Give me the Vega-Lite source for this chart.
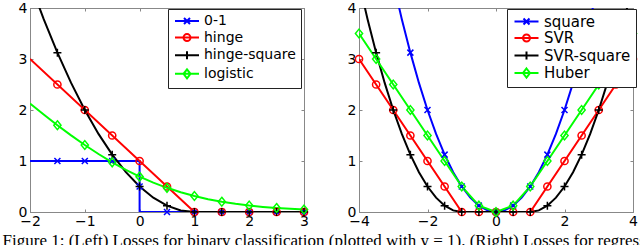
{
  "$schema": "https://vega.github.io/schema/vega-lite/v6.json",
  "padding": {"left": 2, "top": 0, "right": 0, "bottom": 0},
  "bounds": "flush",
  "spacing": 55,
  "title": {"text": "Figure 1: (Left) Losses for binary classification (plotted with y = 1). (Right) Losses for regression (plotted with y = 0).", "orient": "bottom", "anchor": "start", "font": "Liberation Serif", "fontSize": 17, "fontWeight": "normal", "color": "black", "offset": 4, "dx": -15},
  "datasets": {
    "lines": [
      {"panel": "L", "s": "0-1", "x": -2, "y": 1},
      {"panel": "L", "s": "0-1", "x": 0, "y": 1},
      {"panel": "L", "s": "0-1", "x": 0, "y": 0.5},
      {"panel": "L", "s": "0-1", "x": 0, "y": 0},
      {"panel": "L", "s": "0-1", "x": 3, "y": 0},
      {"panel": "L", "s": "hinge", "x": -2, "y": 3},
      {"panel": "L", "s": "hinge", "x": 1, "y": 0},
      {"panel": "L", "s": "hinge", "x": 3, "y": 0},
      {"panel": "L", "s": "hinge-square", "x": -2, "y": 4.5},
      {"panel": "L", "s": "hinge-square", "x": -1.75, "y": 3.78125},
      {"panel": "L", "s": "hinge-square", "x": -1.5, "y": 3.125},
      {"panel": "L", "s": "hinge-square", "x": -1.25, "y": 2.53125},
      {"panel": "L", "s": "hinge-square", "x": -1, "y": 2},
      {"panel": "L", "s": "hinge-square", "x": -0.75, "y": 1.53125},
      {"panel": "L", "s": "hinge-square", "x": -0.5, "y": 1.125},
      {"panel": "L", "s": "hinge-square", "x": -0.25, "y": 0.78125},
      {"panel": "L", "s": "hinge-square", "x": 0, "y": 0.5},
      {"panel": "L", "s": "hinge-square", "x": 0.25, "y": 0.28125},
      {"panel": "L", "s": "hinge-square", "x": 0.5, "y": 0.125},
      {"panel": "L", "s": "hinge-square", "x": 0.75, "y": 0.03125},
      {"panel": "L", "s": "hinge-square", "x": 1, "y": 0},
      {"panel": "L", "s": "hinge-square", "x": 3, "y": 0},
      {"panel": "L", "s": "logistic", "x": -2, "y": 2.1269},
      {"panel": "L", "s": "logistic", "x": -1.75, "y": 1.9102},
      {"panel": "L", "s": "logistic", "x": -1.5, "y": 1.7014},
      {"panel": "L", "s": "logistic", "x": -1.25, "y": 1.5019},
      {"panel": "L", "s": "logistic", "x": -1, "y": 1.3133},
      {"panel": "L", "s": "logistic", "x": -0.75, "y": 1.1369},
      {"panel": "L", "s": "logistic", "x": -0.5, "y": 0.9741},
      {"panel": "L", "s": "logistic", "x": -0.25, "y": 0.8259},
      {"panel": "L", "s": "logistic", "x": 0, "y": 0.6931},
      {"panel": "L", "s": "logistic", "x": 0.25, "y": 0.5759},
      {"panel": "L", "s": "logistic", "x": 0.5, "y": 0.4741},
      {"panel": "L", "s": "logistic", "x": 0.75, "y": 0.3869},
      {"panel": "L", "s": "logistic", "x": 1, "y": 0.3133},
      {"panel": "L", "s": "logistic", "x": 1.25, "y": 0.2519},
      {"panel": "L", "s": "logistic", "x": 1.5, "y": 0.2014},
      {"panel": "L", "s": "logistic", "x": 1.75, "y": 0.1602},
      {"panel": "L", "s": "logistic", "x": 2, "y": 0.1269},
      {"panel": "L", "s": "logistic", "x": 2.25, "y": 0.1002},
      {"panel": "L", "s": "logistic", "x": 2.5, "y": 0.0789},
      {"panel": "L", "s": "logistic", "x": 2.75, "y": 0.062},
      {"panel": "L", "s": "logistic", "x": 3, "y": 0.0486},
      {"panel": "R", "s": "square", "x": -3, "y": 4.5},
      {"panel": "R", "s": "square", "x": -2.75, "y": 3.78125},
      {"panel": "R", "s": "square", "x": -2.5, "y": 3.125},
      {"panel": "R", "s": "square", "x": -2.25, "y": 2.53125},
      {"panel": "R", "s": "square", "x": -2, "y": 2},
      {"panel": "R", "s": "square", "x": -1.75, "y": 1.53125},
      {"panel": "R", "s": "square", "x": -1.5, "y": 1.125},
      {"panel": "R", "s": "square", "x": -1.25, "y": 0.78125},
      {"panel": "R", "s": "square", "x": -1, "y": 0.5},
      {"panel": "R", "s": "square", "x": -0.75, "y": 0.28125},
      {"panel": "R", "s": "square", "x": -0.5, "y": 0.125},
      {"panel": "R", "s": "square", "x": -0.25, "y": 0.03125},
      {"panel": "R", "s": "square", "x": 0, "y": 0},
      {"panel": "R", "s": "square", "x": 0.25, "y": 0.03125},
      {"panel": "R", "s": "square", "x": 0.5, "y": 0.125},
      {"panel": "R", "s": "square", "x": 0.75, "y": 0.28125},
      {"panel": "R", "s": "square", "x": 1, "y": 0.5},
      {"panel": "R", "s": "square", "x": 1.25, "y": 0.78125},
      {"panel": "R", "s": "square", "x": 1.5, "y": 1.125},
      {"panel": "R", "s": "square", "x": 1.75, "y": 1.53125},
      {"panel": "R", "s": "square", "x": 2, "y": 2},
      {"panel": "R", "s": "square", "x": 2.25, "y": 2.53125},
      {"panel": "R", "s": "square", "x": 2.5, "y": 3.125},
      {"panel": "R", "s": "square", "x": 2.75, "y": 3.78125},
      {"panel": "R", "s": "square", "x": 3, "y": 4.5},
      {"panel": "R", "s": "SVR", "x": -4, "y": 3},
      {"panel": "R", "s": "SVR", "x": -1, "y": 0},
      {"panel": "R", "s": "SVR", "x": 1, "y": 0},
      {"panel": "R", "s": "SVR", "x": 4, "y": 3},
      {"panel": "R", "s": "SVR-square", "x": -4, "y": 4.5},
      {"panel": "R", "s": "SVR-square", "x": -3.75, "y": 3.78125},
      {"panel": "R", "s": "SVR-square", "x": -3.5, "y": 3.125},
      {"panel": "R", "s": "SVR-square", "x": -3.25, "y": 2.53125},
      {"panel": "R", "s": "SVR-square", "x": -3, "y": 2},
      {"panel": "R", "s": "SVR-square", "x": -2.75, "y": 1.53125},
      {"panel": "R", "s": "SVR-square", "x": -2.5, "y": 1.125},
      {"panel": "R", "s": "SVR-square", "x": -2.25, "y": 0.78125},
      {"panel": "R", "s": "SVR-square", "x": -2, "y": 0.5},
      {"panel": "R", "s": "SVR-square", "x": -1.75, "y": 0.28125},
      {"panel": "R", "s": "SVR-square", "x": -1.5, "y": 0.125},
      {"panel": "R", "s": "SVR-square", "x": -1.25, "y": 0.03125},
      {"panel": "R", "s": "SVR-square", "x": -1, "y": 0},
      {"panel": "R", "s": "SVR-square", "x": 1, "y": 0},
      {"panel": "R", "s": "SVR-square", "x": 1.25, "y": 0.03125},
      {"panel": "R", "s": "SVR-square", "x": 1.5, "y": 0.125},
      {"panel": "R", "s": "SVR-square", "x": 1.75, "y": 0.28125},
      {"panel": "R", "s": "SVR-square", "x": 2, "y": 0.5},
      {"panel": "R", "s": "SVR-square", "x": 2.25, "y": 0.78125},
      {"panel": "R", "s": "SVR-square", "x": 2.5, "y": 1.125},
      {"panel": "R", "s": "SVR-square", "x": 2.75, "y": 1.53125},
      {"panel": "R", "s": "SVR-square", "x": 3, "y": 2},
      {"panel": "R", "s": "SVR-square", "x": 3.25, "y": 2.53125},
      {"panel": "R", "s": "SVR-square", "x": 3.5, "y": 3.125},
      {"panel": "R", "s": "SVR-square", "x": 3.75, "y": 3.78125},
      {"panel": "R", "s": "SVR-square", "x": 4, "y": 4.5},
      {"panel": "R", "s": "Huber", "x": -4, "y": 3.5},
      {"panel": "R", "s": "Huber", "x": -3.5, "y": 3},
      {"panel": "R", "s": "Huber", "x": -3, "y": 2.5},
      {"panel": "R", "s": "Huber", "x": -2.5, "y": 2},
      {"panel": "R", "s": "Huber", "x": -2, "y": 1.5},
      {"panel": "R", "s": "Huber", "x": -1.5, "y": 1},
      {"panel": "R", "s": "Huber", "x": -1, "y": 0.5},
      {"panel": "R", "s": "Huber", "x": -0.5, "y": 0.125},
      {"panel": "R", "s": "Huber", "x": 0, "y": 0},
      {"panel": "R", "s": "Huber", "x": 0.5, "y": 0.125},
      {"panel": "R", "s": "Huber", "x": 1, "y": 0.5},
      {"panel": "R", "s": "Huber", "x": 1.5, "y": 1},
      {"panel": "R", "s": "Huber", "x": 2, "y": 1.5},
      {"panel": "R", "s": "Huber", "x": 2.5, "y": 2},
      {"panel": "R", "s": "Huber", "x": 3, "y": 2.5},
      {"panel": "R", "s": "Huber", "x": 3.5, "y": 3},
      {"panel": "R", "s": "Huber", "x": 4, "y": 3.5}
    ],
    "markers": [
      {"panel": "L", "s": "0-1", "x": -1.5, "y": 1},
      {"panel": "L", "s": "0-1", "x": -1, "y": 1},
      {"panel": "L", "s": "0-1", "x": -0.5, "y": 1},
      {"panel": "L", "s": "0-1", "x": 0, "y": 0.5},
      {"panel": "L", "s": "0-1", "x": 0.5, "y": 0},
      {"panel": "L", "s": "0-1", "x": 1, "y": 0},
      {"panel": "L", "s": "0-1", "x": 1.5, "y": 0},
      {"panel": "L", "s": "0-1", "x": 2, "y": 0},
      {"panel": "L", "s": "0-1", "x": 2.5, "y": 0},
      {"panel": "L", "s": "0-1", "x": 3, "y": 0},
      {"panel": "L", "s": "hinge", "x": -1.5, "y": 2.5},
      {"panel": "L", "s": "hinge", "x": -1, "y": 2},
      {"panel": "L", "s": "hinge", "x": -0.5, "y": 1.5},
      {"panel": "L", "s": "hinge", "x": 0, "y": 1},
      {"panel": "L", "s": "hinge", "x": 0.5, "y": 0.5},
      {"panel": "L", "s": "hinge", "x": 1, "y": 0},
      {"panel": "L", "s": "hinge", "x": 1.5, "y": 0},
      {"panel": "L", "s": "hinge", "x": 2, "y": 0},
      {"panel": "L", "s": "hinge", "x": 2.5, "y": 0},
      {"panel": "L", "s": "hinge", "x": 3, "y": 0},
      {"panel": "L", "s": "hinge-square", "x": -1.5, "y": 3.125},
      {"panel": "L", "s": "hinge-square", "x": -1, "y": 2},
      {"panel": "L", "s": "hinge-square", "x": -0.5, "y": 1.125},
      {"panel": "L", "s": "hinge-square", "x": 0, "y": 0.5},
      {"panel": "L", "s": "hinge-square", "x": 0.5, "y": 0.125},
      {"panel": "L", "s": "hinge-square", "x": 1, "y": 0},
      {"panel": "L", "s": "hinge-square", "x": 1.5, "y": 0},
      {"panel": "L", "s": "hinge-square", "x": 2, "y": 0},
      {"panel": "L", "s": "hinge-square", "x": 2.5, "y": 0},
      {"panel": "L", "s": "hinge-square", "x": 3, "y": 0},
      {"panel": "L", "s": "logistic", "x": -1.5, "y": 1.7014},
      {"panel": "L", "s": "logistic", "x": -1, "y": 1.3133},
      {"panel": "L", "s": "logistic", "x": -0.5, "y": 0.9741},
      {"panel": "L", "s": "logistic", "x": 0, "y": 0.6931},
      {"panel": "L", "s": "logistic", "x": 0.5, "y": 0.4741},
      {"panel": "L", "s": "logistic", "x": 1, "y": 0.3133},
      {"panel": "L", "s": "logistic", "x": 1.5, "y": 0.2014},
      {"panel": "L", "s": "logistic", "x": 2, "y": 0.1269},
      {"panel": "L", "s": "logistic", "x": 2.5, "y": 0.0789},
      {"panel": "L", "s": "logistic", "x": 3, "y": 0.0486},
      {"panel": "R", "s": "square", "x": -2.5, "y": 3.125},
      {"panel": "R", "s": "square", "x": -2, "y": 2},
      {"panel": "R", "s": "square", "x": -1.5, "y": 1.125},
      {"panel": "R", "s": "square", "x": -1, "y": 0.5},
      {"panel": "R", "s": "square", "x": -0.5, "y": 0.125},
      {"panel": "R", "s": "square", "x": 0, "y": 0},
      {"panel": "R", "s": "square", "x": 0.5, "y": 0.125},
      {"panel": "R", "s": "square", "x": 1, "y": 0.5},
      {"panel": "R", "s": "square", "x": 1.5, "y": 1.125},
      {"panel": "R", "s": "square", "x": 2, "y": 2},
      {"panel": "R", "s": "square", "x": 2.5, "y": 3.125},
      {"panel": "R", "s": "SVR", "x": -4, "y": 3},
      {"panel": "R", "s": "SVR", "x": -3.5, "y": 2.5},
      {"panel": "R", "s": "SVR", "x": -3, "y": 2},
      {"panel": "R", "s": "SVR", "x": -2.5, "y": 1.5},
      {"panel": "R", "s": "SVR", "x": -2, "y": 1},
      {"panel": "R", "s": "SVR", "x": -1.5, "y": 0.5},
      {"panel": "R", "s": "SVR", "x": -1, "y": 0},
      {"panel": "R", "s": "SVR", "x": -0.5, "y": 0},
      {"panel": "R", "s": "SVR", "x": 0, "y": 0},
      {"panel": "R", "s": "SVR", "x": 0.5, "y": 0},
      {"panel": "R", "s": "SVR", "x": 1, "y": 0},
      {"panel": "R", "s": "SVR", "x": 1.5, "y": 0.5},
      {"panel": "R", "s": "SVR", "x": 2, "y": 1},
      {"panel": "R", "s": "SVR", "x": 2.5, "y": 1.5},
      {"panel": "R", "s": "SVR", "x": 3, "y": 2},
      {"panel": "R", "s": "SVR", "x": 3.5, "y": 2.5},
      {"panel": "R", "s": "SVR", "x": 4, "y": 3},
      {"panel": "R", "s": "SVR-square", "x": -3.5, "y": 3.125},
      {"panel": "R", "s": "SVR-square", "x": -3, "y": 2},
      {"panel": "R", "s": "SVR-square", "x": -2.5, "y": 1.125},
      {"panel": "R", "s": "SVR-square", "x": -2, "y": 0.5},
      {"panel": "R", "s": "SVR-square", "x": -1.5, "y": 0.125},
      {"panel": "R", "s": "SVR-square", "x": -1, "y": 0},
      {"panel": "R", "s": "SVR-square", "x": -0.5, "y": 0},
      {"panel": "R", "s": "SVR-square", "x": 0, "y": 0},
      {"panel": "R", "s": "SVR-square", "x": 0.5, "y": 0},
      {"panel": "R", "s": "SVR-square", "x": 1, "y": 0},
      {"panel": "R", "s": "SVR-square", "x": 1.5, "y": 0.125},
      {"panel": "R", "s": "SVR-square", "x": 2, "y": 0.5},
      {"panel": "R", "s": "SVR-square", "x": 2.5, "y": 1.125},
      {"panel": "R", "s": "SVR-square", "x": 3, "y": 2},
      {"panel": "R", "s": "SVR-square", "x": 3.5, "y": 3.125},
      {"panel": "R", "s": "Huber", "x": -4, "y": 3.5},
      {"panel": "R", "s": "Huber", "x": -3.5, "y": 3},
      {"panel": "R", "s": "Huber", "x": -3, "y": 2.5},
      {"panel": "R", "s": "Huber", "x": -2.5, "y": 2},
      {"panel": "R", "s": "Huber", "x": -2, "y": 1.5},
      {"panel": "R", "s": "Huber", "x": -1.5, "y": 1},
      {"panel": "R", "s": "Huber", "x": -1, "y": 0.5},
      {"panel": "R", "s": "Huber", "x": -0.5, "y": 0.125},
      {"panel": "R", "s": "Huber", "x": 0, "y": 0},
      {"panel": "R", "s": "Huber", "x": 0.5, "y": 0.125},
      {"panel": "R", "s": "Huber", "x": 1, "y": 0.5},
      {"panel": "R", "s": "Huber", "x": 1.5, "y": 1},
      {"panel": "R", "s": "Huber", "x": 2, "y": 1.5},
      {"panel": "R", "s": "Huber", "x": 2.5, "y": 2},
      {"panel": "R", "s": "Huber", "x": 3, "y": 2.5},
      {"panel": "R", "s": "Huber", "x": 3.5, "y": 3},
      {"panel": "R", "s": "Huber", "x": 4, "y": 3.5}
    ]
  },
  "hconcat": [
    {
      "width": 274,
      "height": 204,
      "layer": [
        {
          "data": {"name": "lines"},
          "transform": [{"filter": "datum.panel === 'L'"}],
          "mark": {"type": "line", "clip": true, "strokeWidth": 2},
          "encoding": {
            "x": {"field": "x", "type": "quantitative", "scale": {"domain": [-2, 3], "nice": false, "zero": false},
              "axis": {"orient": "bottom", "values": [-2, -1, 0, 1, 2, 3], "format": "d", "title": null, "grid": false, "domainColor": "#888", "tickColor": "#888", "tickSize": -3, "labelPadding": 5, "labelFlush": false, "labelOverlap": false, "labelFont": "DejaVu Sans", "labelFontSize": 14, "labelColor": "black"}},
            "y": {"field": "y", "type": "quantitative", "scale": {"domain": [0, 4], "nice": false, "zero": false},
              "axis": {"orient": "left", "values": [0, 1, 2, 3, 4], "format": "d", "title": null, "grid": false, "domainColor": "#888", "tickColor": "#888", "tickSize": -3, "labelPadding": 6, "labelFlush": false, "labelOverlap": false, "labelFont": "DejaVu Sans", "labelFontSize": 14, "labelColor": "black"}},
            "color": {"field": "s", "type": "nominal",
              "scale": {"domain": ["0-1", "hinge", "hinge-square", "logistic"], "range": ["#0000ff", "#ff0000", "#000000", "#00ff00"]},
              "legend": {"orient": "none", "legendX": 138, "legendY": 1, "title": null, "labelFont": "DejaVu Sans", "labelFontSize": 14, "labelColor": "black", "symbolSize": 100, "symbolStrokeWidth": 2, "labelOffset": 17, "rowPadding": 1.6, "padding": 5, "fillColor": "white", "strokeColor": "#222"}}
          }
        },
        {
          "data": {"name": "markers"},
          "transform": [{"filter": "false"}],
          "mark": {"type": "point", "filled": false, "strokeWidth": 2},
          "encoding": {
            "x": {"field": "x", "type": "quantitative", "scale": {"domain": [-2, 3], "nice": false, "zero": false}, "axis": null},
            "y": {"field": "y", "type": "quantitative", "scale": {"domain": [0, 4], "nice": false, "zero": false}, "axis": null},
            "color": {"field": "s", "type": "nominal", "legend": null},
            "shape": {"field": "s", "type": "nominal", "legend": null,
              "scale": {"domain": ["0-1", "hinge", "hinge-square", "logistic"], "range": ["M-1,0H3.8M0.8,-0.6L2,0.6M0.8,0.6L2,-0.6", "M-1,0H3.8M2.1,0A0.7,0.7 0 1 1 0.7,0A0.7,0.7 0 1 1 2.1,0", "M-1,0H3.8M0.6,0H2.2M1.4,-0.8V0.8", "M-1,0H3.8M1.4,-0.9L2.1,0L1.4,0.9L0.7,0Z"]}}
          }
        },
        {
          "data": {"name": "markers"},
          "transform": [{"filter": "datum.panel === 'L' && datum.s === '0-1'"}],
          "mark": {"type": "point", "shape": "M-0.75,-0.75L0.75,0.75M-0.75,0.75L0.75,-0.75", "filled": false, "strokeWidth": 1.5, "opacity": 1, "size": 64},
          "encoding": {
            "x": {"field": "x", "type": "quantitative", "scale": {"domain": [-2, 3], "nice": false, "zero": false},
              "axis": {"orient": "top", "values": [-2, -1, 0, 1, 2, 3], "labels": false, "title": null, "grid": false, "domainColor": "#888", "tickColor": "#888", "tickSize": -3}},
            "y": {"field": "y", "type": "quantitative", "scale": {"domain": [0, 4], "nice": false, "zero": false},
              "axis": {"orient": "right", "values": [0, 1, 2, 3, 4], "labels": false, "title": null, "grid": false, "domainColor": "#888", "tickColor": "#888", "tickSize": -3}},
            "color": {"field": "s", "type": "nominal", "legend": null}
          }
        },
        {
          "data": {"name": "markers"},
          "transform": [{"filter": "datum.panel === 'L' && datum.s === 'hinge'"}],
          "mark": {"type": "point", "shape": "M0.9,0A0.9,0.9 0 1 1 -0.9,0A0.9,0.9 0 1 1 0.9,0", "filled": false, "strokeWidth": 1.5, "opacity": 1, "size": 64},
          "encoding": {
            "x": {"field": "x", "type": "quantitative", "scale": {"domain": [-2, 3], "nice": false, "zero": false}, "axis": null},
            "y": {"field": "y", "type": "quantitative", "scale": {"domain": [0, 4], "nice": false, "zero": false}, "axis": null},
            "color": {"field": "s", "type": "nominal", "legend": null}
          }
        },
        {
          "data": {"name": "markers"},
          "transform": [{"filter": "datum.panel === 'L' && datum.s === 'hinge-square'"}],
          "mark": {"type": "point", "shape": "M-1,0H1M0,-1V1", "filled": false, "strokeWidth": 1.5, "opacity": 1, "size": 64},
          "encoding": {
            "x": {"field": "x", "type": "quantitative", "scale": {"domain": [-2, 3], "nice": false, "zero": false}, "axis": null},
            "y": {"field": "y", "type": "quantitative", "scale": {"domain": [0, 4], "nice": false, "zero": false}, "axis": null},
            "color": {"field": "s", "type": "nominal", "legend": null}
          }
        },
        {
          "data": {"name": "markers"},
          "transform": [{"filter": "datum.panel === 'L' && datum.s === 'logistic'"}],
          "mark": {"type": "point", "shape": "M0,-1.1L0.9,0L0,1.1L-0.9,0Z", "filled": false, "strokeWidth": 1.5, "opacity": 1, "size": 64},
          "encoding": {
            "x": {"field": "x", "type": "quantitative", "scale": {"domain": [-2, 3], "nice": false, "zero": false}, "axis": null},
            "y": {"field": "y", "type": "quantitative", "scale": {"domain": [0, 4], "nice": false, "zero": false}, "axis": null},
            "color": {"field": "s", "type": "nominal", "legend": null}
          }
        }
      ],
      "resolve": {"axis": {"x": "independent", "y": "independent"}}
    },
    {
      "width": 274,
      "height": 204,
      "layer": [
        {
          "data": {"name": "lines"},
          "transform": [{"filter": "datum.panel === 'R'"}],
          "mark": {"type": "line", "clip": true, "strokeWidth": 2},
          "encoding": {
            "x": {"field": "x", "type": "quantitative", "scale": {"domain": [-4, 4], "nice": false, "zero": false},
              "axis": {"orient": "bottom", "values": [-4, -2, 0, 2, 4], "format": "d", "title": null, "grid": false, "domainColor": "#888", "tickColor": "#888", "tickSize": -3, "labelPadding": 5, "labelFlush": false, "labelOverlap": false, "labelFont": "DejaVu Sans", "labelFontSize": 14, "labelColor": "black"}},
            "y": {"field": "y", "type": "quantitative", "scale": {"domain": [0, 4], "nice": false, "zero": false},
              "axis": {"orient": "left", "values": [0, 1, 2, 3, 4], "format": "d", "title": null, "grid": false, "domainColor": "#888", "tickColor": "#888", "tickSize": -3, "labelPadding": 6, "labelFlush": false, "labelOverlap": false, "labelFont": "DejaVu Sans", "labelFontSize": 14, "labelColor": "black"}},
            "color": {"field": "s", "type": "nominal",
              "scale": {"domain": ["square", "SVR", "SVR-square", "Huber"], "range": ["#0000ff", "#ff0000", "#000000", "#00ff00"]},
              "legend": {"orient": "none", "legendX": 148, "legendY": 1, "title": null, "labelFont": "DejaVu Sans", "labelFontSize": 15, "labelColor": "black", "symbolSize": 100, "symbolStrokeWidth": 2, "labelOffset": 17, "rowPadding": 0.5, "padding": 5, "fillColor": "white", "strokeColor": "#222"}}
          }
        },
        {
          "data": {"name": "markers"},
          "transform": [{"filter": "false"}],
          "mark": {"type": "point", "filled": false, "strokeWidth": 2},
          "encoding": {
            "x": {"field": "x", "type": "quantitative", "scale": {"domain": [-4, 4], "nice": false, "zero": false}, "axis": null},
            "y": {"field": "y", "type": "quantitative", "scale": {"domain": [0, 4], "nice": false, "zero": false}, "axis": null},
            "color": {"field": "s", "type": "nominal", "legend": null},
            "shape": {"field": "s", "type": "nominal", "legend": null,
              "scale": {"domain": ["square", "SVR", "SVR-square", "Huber"], "range": ["M-1,0H3.8M0.8,-0.6L2,0.6M0.8,0.6L2,-0.6", "M-1,0H3.8M2.1,0A0.7,0.7 0 1 1 0.7,0A0.7,0.7 0 1 1 2.1,0", "M-1,0H3.8M0.6,0H2.2M1.4,-0.8V0.8", "M-1,0H3.8M1.4,-0.9L2.1,0L1.4,0.9L0.7,0Z"]}}
          }
        },
        {
          "data": {"name": "markers"},
          "transform": [{"filter": "datum.panel === 'R' && datum.s === 'square'"}],
          "mark": {"type": "point", "shape": "M-0.75,-0.75L0.75,0.75M-0.75,0.75L0.75,-0.75", "filled": false, "strokeWidth": 1.5, "opacity": 1, "size": 64},
          "encoding": {
            "x": {"field": "x", "type": "quantitative", "scale": {"domain": [-4, 4], "nice": false, "zero": false},
              "axis": {"orient": "top", "values": [-4, -2, 0, 2, 4], "labels": false, "title": null, "grid": false, "domainColor": "#888", "tickColor": "#888", "tickSize": -3}},
            "y": {"field": "y", "type": "quantitative", "scale": {"domain": [0, 4], "nice": false, "zero": false},
              "axis": {"orient": "right", "values": [0, 1, 2, 3, 4], "labels": false, "title": null, "grid": false, "domainColor": "#888", "tickColor": "#888", "tickSize": -3}},
            "color": {"field": "s", "type": "nominal", "legend": null}
          }
        },
        {
          "data": {"name": "markers"},
          "transform": [{"filter": "datum.panel === 'R' && datum.s === 'SVR'"}],
          "mark": {"type": "point", "shape": "M0.9,0A0.9,0.9 0 1 1 -0.9,0A0.9,0.9 0 1 1 0.9,0", "filled": false, "strokeWidth": 1.5, "opacity": 1, "size": 64},
          "encoding": {
            "x": {"field": "x", "type": "quantitative", "scale": {"domain": [-4, 4], "nice": false, "zero": false}, "axis": null},
            "y": {"field": "y", "type": "quantitative", "scale": {"domain": [0, 4], "nice": false, "zero": false}, "axis": null},
            "color": {"field": "s", "type": "nominal", "legend": null}
          }
        },
        {
          "data": {"name": "markers"},
          "transform": [{"filter": "datum.panel === 'R' && datum.s === 'SVR-square'"}],
          "mark": {"type": "point", "shape": "M-1,0H1M0,-1V1", "filled": false, "strokeWidth": 1.5, "opacity": 1, "size": 64},
          "encoding": {
            "x": {"field": "x", "type": "quantitative", "scale": {"domain": [-4, 4], "nice": false, "zero": false}, "axis": null},
            "y": {"field": "y", "type": "quantitative", "scale": {"domain": [0, 4], "nice": false, "zero": false}, "axis": null},
            "color": {"field": "s", "type": "nominal", "legend": null}
          }
        },
        {
          "data": {"name": "markers"},
          "transform": [{"filter": "datum.panel === 'R' && datum.s === 'Huber'"}],
          "mark": {"type": "point", "shape": "M0,-1.1L0.9,0L0,1.1L-0.9,0Z", "filled": false, "strokeWidth": 1.5, "opacity": 1, "size": 64},
          "encoding": {
            "x": {"field": "x", "type": "quantitative", "scale": {"domain": [-4, 4], "nice": false, "zero": false}, "axis": null},
            "y": {"field": "y", "type": "quantitative", "scale": {"domain": [0, 4], "nice": false, "zero": false}, "axis": null},
            "color": {"field": "s", "type": "nominal", "legend": null}
          }
        }
      ],
      "resolve": {"axis": {"x": "independent", "y": "independent"}}
    }
  ],
  "resolve": {"scale": {"color": "independent", "shape": "independent"}},
  "config": {"view": {"stroke": "#888"}, "background": "white"}
}
